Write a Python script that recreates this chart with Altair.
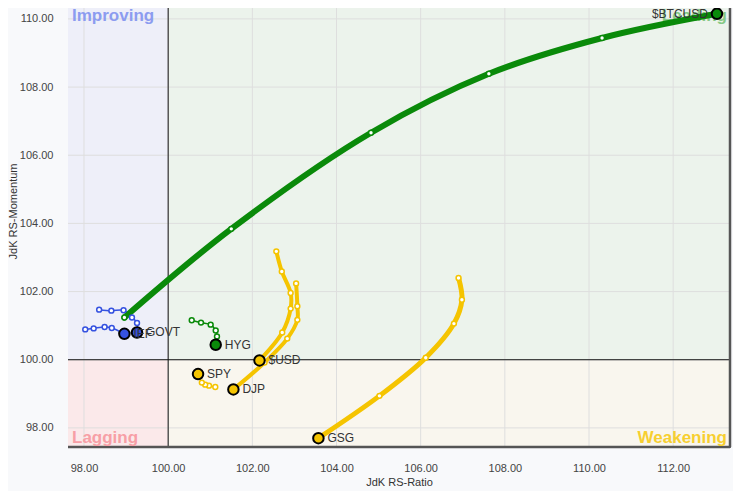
import altair as alt
import pandas as pd

# ---- axes ----
x_ticks = [98, 100, 102, 104, 106, 108, 110, 112]
y_ticks = [98, 100, 102, 104, 106, 108, 110]
x_domain = [97.62, 113.35]
y_domain = [97.44, 110.32]

# ---- series (tail ... head) ----
names = ["IEF", "GOVT", "$BTCUSD", "HYG", "$USD", "DJP", "SPY", "GSG"]
colors = ["#3552e0", "#3552e0", "#0a8a0a", "#0a8a0a", "#f5c400", "#f5c400", "#f5c400", "#f5c400"]
widths = [1.5, 1.5, 6, 1.5, 4, 4, 1.5, 5]

ief_x = [98.03, 98.23, 98.49, 98.66, 98.96]
ief_y = [100.89, 100.92, 100.96, 100.93, 100.76]
govt_x = [98.36, 98.65, 98.94, 99.14, 99.26, 99.26]
govt_y = [101.47, 101.44, 101.45, 101.24, 101.08, 100.80]
btc_x = [98.96, 101.50, 104.82, 107.62, 110.31, 113.04]
btc_y = [101.24, 103.84, 106.66, 108.39, 109.44, 110.15]
hyg_x = [100.56, 100.78, 101.01, 101.13, 101.16, 101.13]
hyg_y = [101.16, 101.09, 101.03, 100.86, 100.68, 100.44]
usd_x = [102.57, 102.70, 102.91, 102.91, 102.71, 102.17]
usd_y = [103.18, 102.59, 101.96, 101.50, 100.80, 99.98]
djp_x = [103.04, 103.07, 103.07, 102.83, 102.29, 101.55]
djp_y = [102.24, 101.57, 101.17, 100.62, 99.92, 99.13]
spy_x = [101.12, 100.97, 100.88, 100.80, 100.71]
spy_y = [99.20, 99.24, 99.27, 99.33, 99.58]
gsg_x = [106.90, 106.98, 106.79, 106.12, 105.02, 103.57]
gsg_y = [102.40, 101.76, 101.06, 100.06, 98.94, 97.70]

series_xy = {
    "IEF": (ief_x, ief_y),
    "GOVT": (govt_x, govt_y),
    "$BTCUSD": (btc_x, btc_y),
    "HYG": (hyg_x, hyg_y),
    "$USD": (usd_x, usd_y),
    "DJP": (djp_x, djp_y),
    "SPY": (spy_x, spy_y),
    "GSG": (gsg_x, gsg_y),
}

rows = []
for name, w in zip(names, widths):
    xs, ys = series_xy[name]
    n = len(xs)
    for i, (xv, yv) in enumerate(zip(xs, ys)):
        rows.append({"series": name, "idx": i, "x": xv, "y": yv, "lw": w,
                     "head": i == n - 1, "right": name == "$BTCUSD"})
df = pd.DataFrame(rows)

color_scale = alt.Scale(domain=names, range=colors)
xs_ = alt.Scale(domain=x_domain, nice=False, zero=False)
ys_ = alt.Scale(domain=y_domain, nice=False, zero=False)

X = alt.X("x:Q", scale=xs_, axis=alt.Axis(
    values=x_ticks, format=".2f", title="JdK RS-Ratio", grid=False, ticks=False,
    domain=False, labelPadding=15, labelFontSize=11, labelColor="#444",
    titleFontSize=11, titleFontWeight="normal", titleColor="#333",
    titleX=331, titleY=35, titleBaseline="middle"))
Y = alt.Y("y:Q", scale=ys_, axis=alt.Axis(
    values=y_ticks, format=".2f", title="JdK RS-Momentum", grid=False, ticks=False,
    domain=False, labelPadding=15, labelFontSize=11, labelColor="#444",
    titleFontSize=11, titleFontWeight="normal", titleColor="#333",
    titleX=-55, titleY=203, titleBaseline="middle"))

# quadrant backgrounds
quad = pd.DataFrame([
    {"x": x_domain[0], "x2": 100, "y": 100, "y2": y_domain[1], "c": "#eeeff9"},
    {"x": 100, "x2": x_domain[1], "y": 100, "y2": y_domain[1], "c": "#ecf3ec"},
    {"x": x_domain[0], "x2": 100, "y": y_domain[0], "y2": 100, "c": "#fbe9ea"},
    {"x": 100, "x2": x_domain[1], "y": y_domain[0], "y2": 100, "c": "#f9f6ee"},
])
rects = alt.Chart(quad).mark_rect().encode(
    x=X, x2="x2:Q", y=Y, y2="y2:Q", fill=alt.Fill("c:N", scale=None))

gx = alt.Chart(pd.DataFrame({"x": x_ticks})).mark_rule(color="#dedede", strokeWidth=1).encode(x=X)
gy = alt.Chart(pd.DataFrame({"y": y_ticks})).mark_rule(color="#dedede", strokeWidth=1).encode(y=Y)
cx = alt.Chart(pd.DataFrame({"x": [100]})).mark_rule(color="#111", strokeWidth=1).encode(x=X)
cy = alt.Chart(pd.DataFrame({"y": [100]})).mark_rule(color="#111", strokeWidth=1).encode(y=Y)
bx = alt.Chart(pd.DataFrame({"x": [x_domain[1]]})).mark_rule(color="#555", strokeWidth=2.5).encode(x=X)
by = alt.Chart(pd.DataFrame({"y": [y_domain[0]]})).mark_rule(color="#555", strokeWidth=2.5).encode(y=Y)

qlab = pd.DataFrame([
    {"t": "Improving", "x": x_domain[0], "y": y_domain[1], "c": "#8c9cf0"},
    {"t": "Leading", "x": x_domain[1], "y": y_domain[1], "c": "#86c986"},
    {"t": "Lagging", "x": x_domain[0], "y": y_domain[0], "c": "#f79fa6"},
    {"t": "Weakening", "x": x_domain[1], "y": y_domain[0], "c": "#f7cf30"},
])
font = "Liberation Sans"
ql = []
for t, al, dx, dy in [("Improving", "left", 4, 13), ("Leading", "right", -3, 13),
                      ("Lagging", "left", 4, -4), ("Weakening", "right", -3, -4)]:
    ql.append(alt.Chart(qlab[qlab.t == t]).mark_text(
        align=al, baseline="alphabetic", dx=dx, dy=dy, fontSize=17,
        fontWeight="bold", font=font).encode(
        x=X, y=Y, text="t:N", color=alt.Color("c:N", scale=None)))

lines = alt.Chart(df).mark_line(interpolate="catmull-rom", strokeCap="round",
                                strokeJoin="round").encode(
    x=X, y=Y, detail="series:N", order="idx:Q",
    color=alt.Color("series:N", scale=color_scale, legend=None),
    strokeWidth=alt.StrokeWidth("lw:Q", scale=None))

tails = alt.Chart(df[~df["head"]]).mark_circle(
    size=24, fill="white", fillOpacity=1, strokeWidth=1.5, opacity=1).encode(
    x=X, y=Y, stroke=alt.Stroke("series:N", scale=color_scale, legend=None))

heads = alt.Chart(df[df["head"]]).mark_circle(
    size=110, stroke="black", strokeWidth=2, opacity=1).encode(
    x=X, y=Y, color=alt.Color("series:N", scale=color_scale, legend=None))

lab_l = alt.Chart(df[df["head"] & ~df["right"]]).mark_text(
    align="left", baseline="middle", dx=9, fontSize=12, color="#333", font=font).encode(
    x=X, y=Y, text="series:N")
lab_r = alt.Chart(df[df["head"] & df["right"]]).mark_text(
    align="right", baseline="middle", dx=-9, fontSize=12, color="#333", font=font).encode(
    x=X, y=Y, text="series:N")

chart = alt.layer(
    rects, gx, gy, cx, cy, bx, by, *ql, lines, tails, heads, lab_l, lab_r
).properties(
    width=662, height=439,
    autosize=alt.AutoSizeParams(type="none"),
    padding={"left": 60, "top": 0, "right": 3, "bottom": 44},
    background="#f8f9fb",
).configure_view(stroke="#333", strokeWidth=1).configure_axis(
    labelFont=font, titleFont=font)

chart.save("out.html", embed_options={"renderer": "svg", "actions": False})
